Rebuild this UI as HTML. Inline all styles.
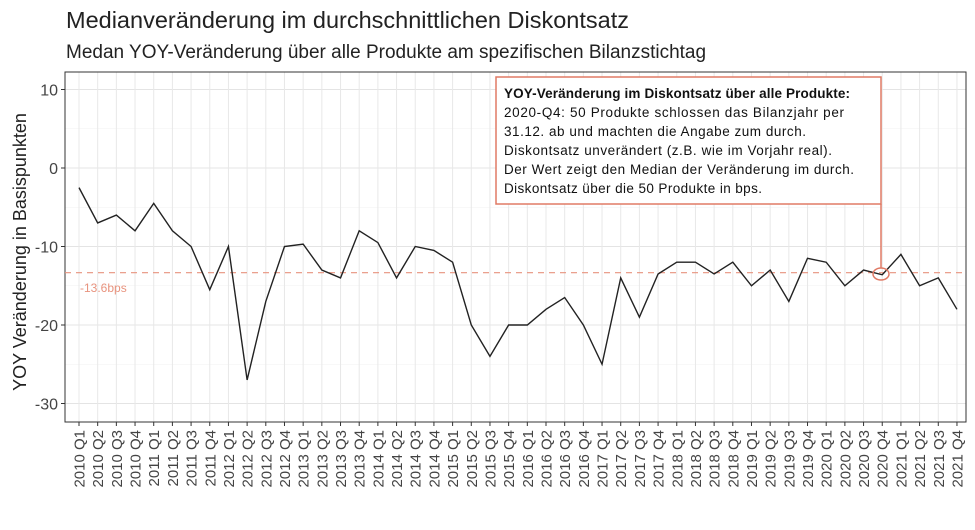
<!DOCTYPE html>
<html><head><meta charset="utf-8"><style>body{margin:0;background:#fff}</style></head><body>
<svg width="975" height="525" xmlns="http://www.w3.org/2000/svg" font-family="Liberation Sans, sans-serif">
<text x="66" y="28" font-size="23.5" fill="#222">Medianveränderung im durchschnittlichen Diskontsatz</text>
<text x="66" y="58" font-size="19" fill="#222">Medan YOY-Veränderung über alle Produkte am spezifischen Bilanzstichtag</text>
<g id="grid"></g>
<rect x="65" y="72" width="901" height="350" fill="none" stroke="#333" stroke-width="1"/>
<g id="yt" font-size="16" fill="#444" text-anchor="end"></g>
<text transform="translate(26,252) rotate(-90)" font-size="18" text-anchor="middle" fill="#222">YOY Veränderung in Basispunkten</text>
<g id="xt" font-size="15" fill="#444"></g>
<line x1="65" x2="966" y1="272.7" y2="272.7" stroke="#e8937e" stroke-width="1.2" stroke-dasharray="6,5"/>
<text x="80" y="292" font-size="12" fill="#e8937e">-13.6bps</text>
<polyline id="ln" fill="none" stroke="#222" stroke-width="1.4"/>
<rect x="496" y="77" width="385" height="127" fill="#fff" stroke="#e07a65" stroke-width="1.5"/>
<line x1="881" y1="204" x2="881" y2="268" stroke="#e07a65" stroke-width="1.5"/>
<ellipse cx="881" cy="274" rx="8" ry="6" fill="none" stroke="#e07a65" stroke-width="1.5"/>
<g font-size="13.5" fill="#111">
<text x="504" y="98" font-weight="bold" textLength="346">YOY-Veränderung im Diskontsatz über alle Produkte:</text>
<text x="504" y="117" textLength="340">2020-Q4: 50 Produkte schlossen das Bilanzjahr per</text>
<text x="504" y="136" textLength="302">31.12. ab und machten die Angabe zum durch.</text>
<text x="504" y="155" textLength="328">Diskontsatz unverändert (z.B. wie im Vorjahr real).</text>
<text x="504" y="174" textLength="350">Der Wert zeigt den Median der Veränderung im durch.</text>
<text x="504" y="193" textLength="258">Diskontsatz über die 50 Produkte in bps.</text>
</g>
</svg>
<script>
const ns="http://www.w3.org/2000/svg";
const X=i=>79+i*18.68, Y=v=>168-v*7.85;
const g=document.getElementById("grid");
function L(x1,y1,x2,y2,c,w){const l=document.createElementNS(ns,"line");l.setAttribute("x1",x1);l.setAttribute("y1",y1);l.setAttribute("x2",x2);l.setAttribute("y2",y2);l.setAttribute("stroke",c);l.setAttribute("stroke-width",w);g.appendChild(l);}
for(let v=-35;v<=10;v+=5){const y=Y(v);if(y<72||y>422)continue;L(65,y,966,y,v%10==0?"#e4e4e4":"#f0f0f0",v%10==0?1.1:0.6);}
for(let i=0;i<48;i++)L(X(i),72,X(i),422,"#e8e8e8",1);
const yt=document.getElementById("yt");
for(let v=-30;v<=10;v+=10){const t=document.createElementNS(ns,"text");t.setAttribute("x",58);t.setAttribute("y",Y(v)+6);t.textContent=v;yt.appendChild(t);
const l=document.createElementNS(ns,"line");l.setAttribute("x1",61);l.setAttribute("x2",65);l.setAttribute("y1",Y(v));l.setAttribute("y2",Y(v));l.setAttribute("stroke","#333");yt.appendChild(l);}
const xt=document.getElementById("xt");
for(let i=0;i<48;i++){const t=document.createElementNS(ns,"text");const x=X(i)+5.5;t.setAttribute("transform",`translate(${x},430) rotate(-90)`);t.setAttribute("text-anchor","end");t.textContent=(2010+Math.floor(i/4))+" Q"+(i%4+1);xt.appendChild(t);
const l=document.createElementNS(ns,"line");l.setAttribute("x1",X(i));l.setAttribute("x2",X(i));l.setAttribute("y1",422);l.setAttribute("y2",426);l.setAttribute("stroke","#333");xt.appendChild(l);}
const d=[-2.5,-7,-6,-8,-4.5,-8,-10,-15.5,-10,-27,-17,-10,-9.7,-13,-14,-8,-9.5,-14,-10,-10.5,-12,-20,-24,-20,-20,-18,-16.5,-20,-25,-14,-19,-13.5,-12,-12,-13.5,-12,-15,-13,-17,-11.5,-12,-15,-13,-13.6,-11,-15,-14,-18];
document.getElementById("ln").setAttribute("points",d.map((v,i)=>X(i)+","+Y(v)).join(" "));
</script>
</body></html>
